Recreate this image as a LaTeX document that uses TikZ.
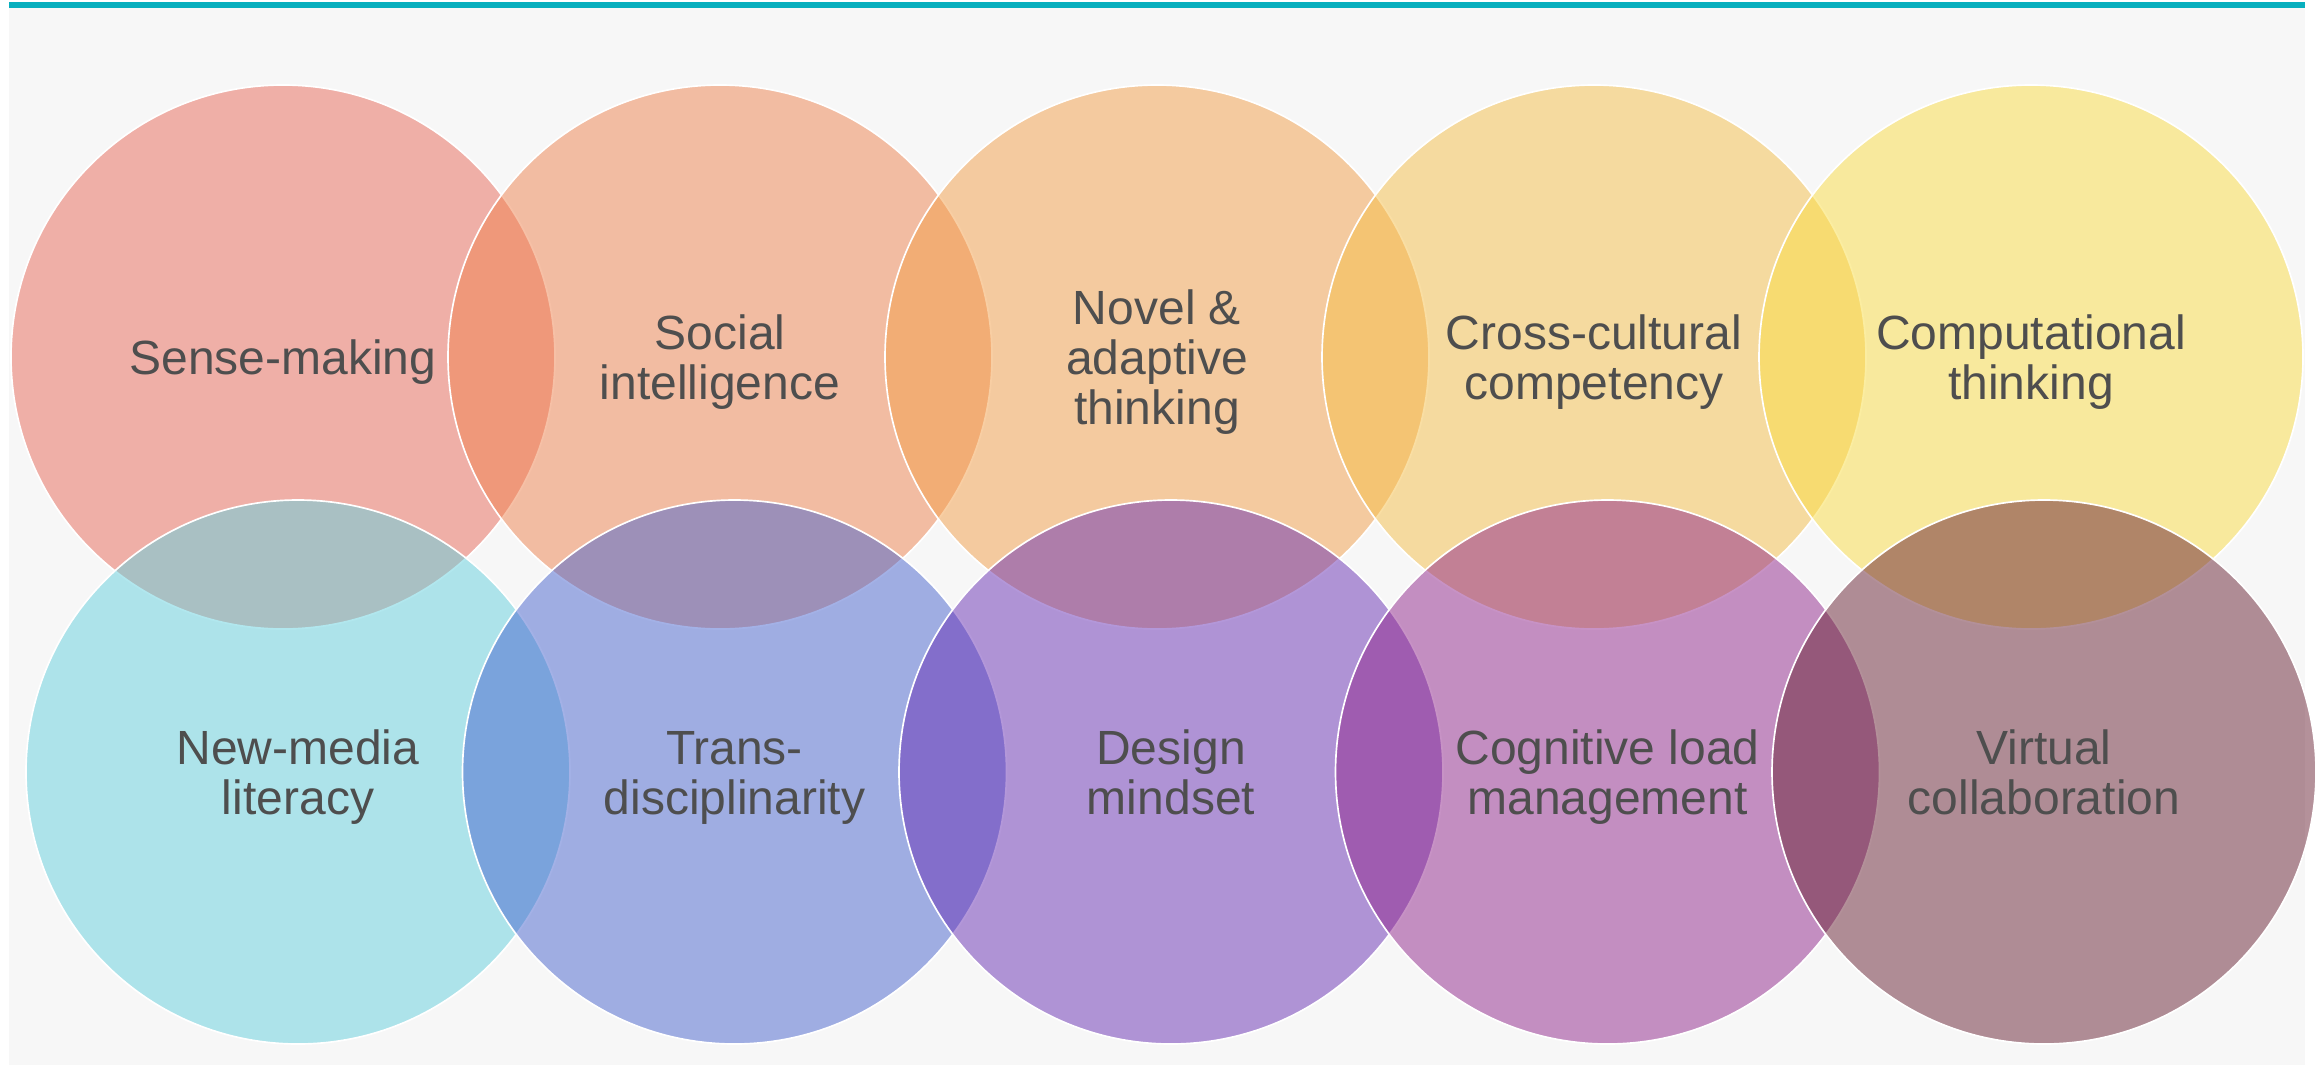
\documentclass[tikz,border=0pt]{standalone}
\usepackage{fontspec}
\setmainfont{Liberation Sans}
\definecolor{bgGray}{RGB}{247,247,247}
\definecolor{topTeal}{RGB}{8,175,190}
\definecolor{txtGray}{RGB}{78,78,78}
\definecolor{cA}{RGB}{233,105,89}
\definecolor{cB}{RGB}{239,131,79}
\definecolor{cC}{RGB}{243,159,73}
\definecolor{cD}{RGB}{245,191,73}
\definecolor{cE}{RGB}{249,221,69}
\definecolor{cF}{RGB}{101,209,223}
\definecolor{cG}{RGB}{73,101,207}
\definecolor{cH}{RGB}{105,49,181}
\definecolor{cI}{RGB}{145,39,141}
\definecolor{cJ}{RGB}{105,35,53}
\newcommand{\lnstrut}{\rule[-3.6pt]{0pt}{17.4pt}}
\begin{document}
\begin{tikzpicture}[x=0.3pt,y=-0.3pt,
  bubble/.style={circle, minimum size=163.2pt, inner sep=0pt, draw=white,
    line width=0.5pt, fill opacity=0.5, text opacity=1, text=txtGray,
    align=center, font={\fontsize{14.4}{15}\selectfont\lineskiplimit=-20pt}}]
\useasboundingbox (0,0) rectangle (2323,1065);
\fill[bgGray] (9,8) rectangle (2305,1065);
\fill[topTeal] (9,2) rectangle (2305,8);
% top row
\node[bubble, fill=cA] (sense) at (283,357) {\lnstrut Sense-making};
\node[bubble, fill=cB] (social) at (720,357) {\lnstrut Social\\\lnstrut intelligence};
\node[bubble, fill=cC] (novel) at (1157,357) {\lnstrut Novel \&\\\lnstrut adaptive\\\lnstrut thinking};
\node[bubble, fill=cD] (cross) at (1594,357) {\lnstrut Cross-cultural\\\lnstrut competency};
\node[bubble, fill=cE] (comp) at (2031,357) {\lnstrut Computational\\\lnstrut thinking};
% bottom row
\node[bubble, fill=cF] (media) at (298,772) {\lnstrut New-media\\\lnstrut literacy};
\node[bubble, fill=cG] (trans) at (734.5,772) {\lnstrut Trans-\\\lnstrut disciplinarity};
\node[bubble, fill=cH] (design) at (1171,772) {\lnstrut Design\\\lnstrut mindset};
\node[bubble, fill=cI] (cognitive) at (1607.5,772) {\lnstrut Cognitive load\\\lnstrut management};
\node[bubble, fill=cJ] (virtual) at (2044,772) {\lnstrut Virtual\\\lnstrut collaboration};
\end{tikzpicture}
\end{document}
